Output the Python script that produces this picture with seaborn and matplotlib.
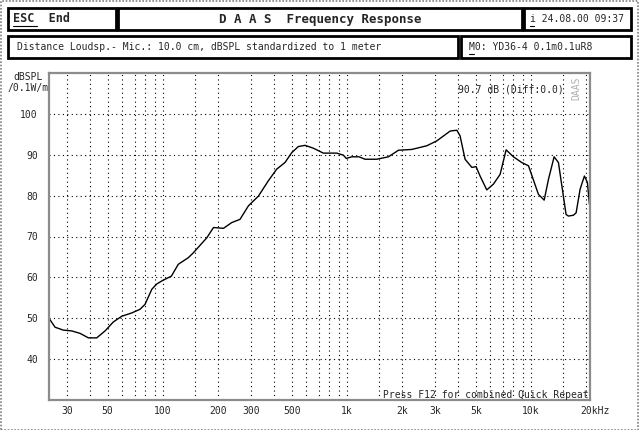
import numpy as np
import pandas as pd
import matplotlib
matplotlib.use("Agg")
import matplotlib.pyplot as plt
import matplotlib.transforms as mtransforms
from matplotlib.patches import Rectangle
from matplotlib.lines import Line2D
import seaborn as sns

freq_hz = [24.0, 25.9, 28.7, 31.9, 35.4, 39.3, 43.6, 48.4, 53.7, 59.7, 67.6, 75.0,
           79.8, 86.9, 92.5, 100, 111, 121, 137, 146, 173, 188, 213, 236, 262, 291,
           330, 373, 415, 460, 500, 543, 591, 656, 743, 879, 955, 990, 1062, 1160,
           1253, 1449, 1678, 1902, 2248, 2713, 3074, 3634, 3949, 4114, 4378, 4766,
           5023, 5281, 5744, 6239, 6786, 7316, 8016, 8896, 9680, 10965, 11780,
           12430, 13340, 14080, 15490, 15950, 16980, 17570, 18470, 19490, 20240,
           20750]
spl_db = [50.0, 47.8, 47.1, 46.9, 46.3, 45.2, 45.2, 46.9, 49.1, 50.5, 51.3, 52.2,
          53.4, 57.1, 58.4, 59.3, 60.3, 63.2, 64.8, 66.0, 69.7, 72.2, 72.0, 73.4,
          74.2, 77.5, 79.9, 83.6, 86.5, 88.1, 90.5, 92.0, 92.3, 91.6, 90.4, 90.4,
          89.9, 89.1, 89.5, 89.5, 88.9, 88.9, 89.5, 91.1, 91.3, 92.2, 93.4, 95.8,
          96.0, 94.6, 88.9, 86.9, 87.1, 84.8, 81.4, 82.8, 85.2, 91.2, 89.5, 88.1,
          87.3, 80.3, 78.9, 84.0, 89.5, 88.1, 75.4, 75.0, 75.2, 75.8, 81.6, 84.8,
          83.2, 77.9]

grid_freqs = [30, 40, 50, 60, 70, 80, 90, 100, 150, 200, 300, 400, 500, 600, 700,
              800, 900, 1000, 1500, 2000, 3000, 4000, 5000, 6000, 7000, 8000, 9000,
              10000, 15000, 20000]
label_freqs = [30, 50, 100, 200, 300, 500, 1000, 2000, 3000, 5000, 10000, 20000]
label_texts = ["30", "50", "100", "200", "300", "500", "1k", "2k", "3k", "5k", "10k", "20kHz"]
db_ticks = [40, 50, 60, 70, 80, 90, 100]

W, H = 639, 430

sns.set_style("white")
plt.rcParams["font.family"] = ["DejaVu Sans Mono"]
plt.rcParams["font.size"] = 7

fig = plt.figure(figsize=(W / 100, H / 100), dpi=100)


def fx(x):
    return x / W


def fy(y):
    return 1 - y / H


ax = fig.add_axes([fx(49), fy(400), fx(590) - fx(49), fy(73) - fy(400)])

df = pd.DataFrame({"freq": freq_hz, "spl": spl_db})
sns.lineplot(data=df, x="freq", y="spl", ax=ax, color="black", linewidth=1.0,
             estimator=None, sort=False)

ax.set_xscale("log")
ax.set_xlim(24, 20900)
ax.set_ylim(30, 110)

ax.set_xticks(grid_freqs)
ax.set_xticklabels([label_texts[label_freqs.index(f)] if f in label_freqs else "" for f in grid_freqs])
ax.xaxis.set_minor_locator(matplotlib.ticker.NullLocator())
ax.set_yticks(db_ticks)
ax.set_yticklabels([str(v) for v in db_ticks])
ax.tick_params(axis="both", length=0, labelsize=7)
ax.tick_params(axis="y", pad=8)
ax.tick_params(axis="x", pad=4)
ax.set_xlabel("")
ax.set_ylabel("")

# last label reads "20kHz", starts near the tick
lab = ax.get_xticklabels()[-1]
lab.set_horizontalalignment("left")
lab.set_transform(lab.get_transform() + mtransforms.ScaledTranslation(-6 / 100, 0, fig.dpi_scale_trans))

ax.grid(True, color="black", linestyle=(0, (1, 3)), linewidth=0.8)
for s in ax.spines.values():
    s.set_color("#8c8c8c")
    s.set_linewidth(1.6)

ax.text(0.952, 0.965, "90.7 dB (Diff:0.0)", transform=ax.transAxes, ha="right", va="top", fontsize=7)
ax.text(0.975, 0.99, "DAAS", transform=ax.transAxes, ha="center", va="top", rotation=90,
        fontsize=7, color="#b0b0b0")
ax.text(0.998, 0.0, "Press F12 for combined Quick Repeat", transform=ax.transAxes,
        ha="right", va="bottom", fontsize=7)

fig.text(fx(28), fy(72), "dBSPL\n/0.1W/m", ha="center", va="top", fontsize=7,
         multialignment="center", linespacing=1.1)

# header boxes
boxes = [(8, 8, 116, 30), (118, 8, 522, 30), (524, 8, 631, 30),
         (8, 36, 458, 58), (461, 36, 631, 58)]
for x0, y0, x1, y1 in boxes:
    fig.add_artist(Rectangle((fx(x0), fy(y1)), fx(x1) - fx(x0), fy(y0) - fy(y1),
                             fill=False, edgecolor="black", linewidth=2))

fig.text(fx(13), fy(19), "ESC  End", ha="left", va="center", fontsize=8.5, fontweight="bold")
fig.text(fx(320), fy(19.5), "D A A S  Frequency Response", ha="center", va="center",
         fontsize=9, fontweight="bold")
fig.text(fx(530), fy(19), "i 24.08.00 09:37", ha="left", va="center", fontsize=7)
fig.text(fx(17), fy(47), "Distance Loudsp.- Mic.: 10.0 cm, dBSPL standardized to 1 meter",
         ha="left", va="center", fontsize=7)
fig.text(fx(469), fy(47), "M0: YD36-4 0.1m0.1uR8", ha="left", va="center", fontsize=7)

# underlined hot keys
for x0, x1, y in [(13, 37, 26), (530, 534, 26), (469, 474, 54)]:
    fig.add_artist(Line2D([fx(x0), fx(x1)], [fy(y), fy(y)], color="black", linewidth=0.8))

# dithered outer frame
fig.add_artist(Rectangle((0.001, 0.001), 0.997, 0.997, fill=False, edgecolor="#808080",
                         linewidth=1.2, linestyle=(0, (1, 1))))

fig.savefig("out.png", dpi=100)
